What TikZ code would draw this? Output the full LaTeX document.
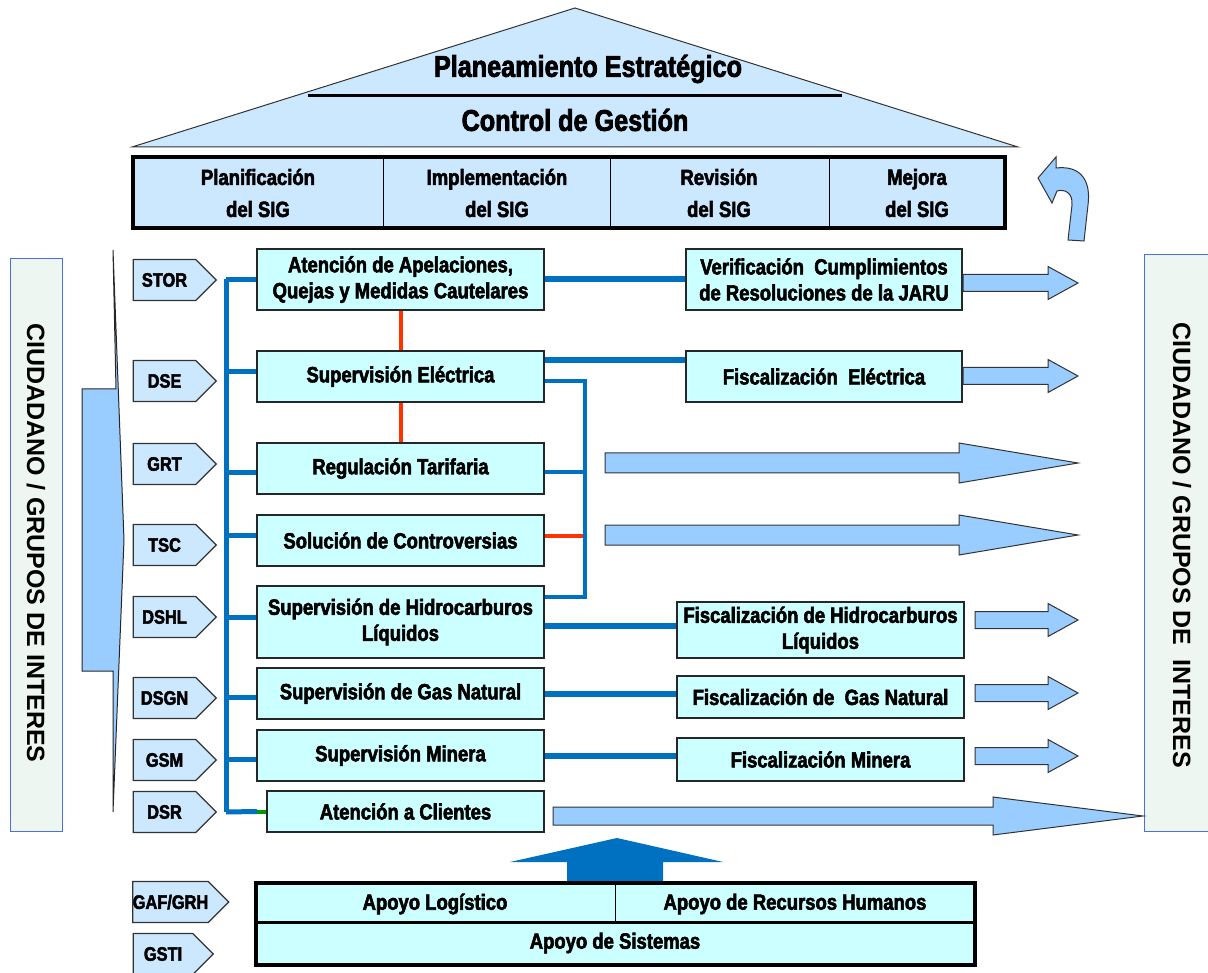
\documentclass[tikz,border=0pt]{standalone}
\usepackage{fontspec}
\setmainfont{Liberation Sans}
\newfontfamily\cnd[FakeStretch=0.84,FakeBold=2.5]{Liberation Sans}
\usetikzlibrary{shapes.symbols}

\definecolor{roofblue}{HTML}{CCE8FF}
\definecolor{boxcyan}{HTML}{CCFFFF}
\definecolor{arrowblue}{HTML}{99CCFF}
\definecolor{busblue}{HTML}{0070C0}
\definecolor{linkred}{HTML}{FF3300}
\definecolor{linkgreen}{HTML}{009900}
\definecolor{sidefill}{HTML}{EEF6F1}
\definecolor{sideedge}{HTML}{4A6FE0}

\tikzset{
  procbox/.style={draw=black!85, line width=1.2pt, fill=boxcyan, inner sep=0pt,
    align=center, font=\cnd\bfseries\fontsize{22}{26}\selectfont},
  tagbox/.style={signal, signal to=east, signal pointer angle=90, draw=black!80,
    line width=1.2pt, fill=roofblue, minimum height=41pt, inner sep=0pt,
    font=\cnd\bfseries\fontsize{19.5}{20}\selectfont},
  sigtext/.style={align=center, font=\cnd\bfseries\fontsize{22}{32}\selectfont},
  rooftext/.style={font=\cnd\bfseries\fontsize{30}{32}\selectfont},
  sidetext/.style={rotate=-90, font=\bfseries\fontsize{25}{26}\selectfont},
  bus/.style={draw=busblue, line width=5pt},
  thicklink/.style={draw=busblue, line width=6pt},
  bracket/.style={draw=busblue, line width=4pt},
  redlink/.style={draw=linkred, line width=4pt},
  flowarrow/.style={fill=arrowblue, draw=black!80, line width=1pt},
}

% flat block arrow: x start, x tip, y centre, shaft half height, head half height, head start
\newcommand\flowarr[6]{%
  \filldraw[flowarrow] ({#1},{#3-#4}) -- ({#6},{#3-#4}) -- ({#6},{#3-#5}) -- ({#2},{#3})
    -- ({#6},{#3+#5}) -- ({#6},{#3+#4}) -- ({#1},{#3+#4}) -- cycle;}

\begin{document}
\begin{tikzpicture}[x=1pt,y=-1pt]
\useasboundingbox (0,0) rectangle (1208,973);

% ---------- roof ----------
\filldraw[fill=roofblue, draw=black!80, line width=1pt] (132,147) -- (575,8) -- (1018,147) -- cycle;
\node[rooftext] (plan) at (588,69) {Planeamiento Estratégico};
\draw[line width=3pt] (308,96) -- (842,96);
\node[rooftext] (ctrl) at (575,120) {Control de Gestión};

% ---------- SIG cycle bar ----------
\node[draw=black, line width=4pt, fill=roofblue, minimum width=872pt, minimum height=71pt, inner sep=0pt] (sig) at (569,192.5) {};
\foreach \xd in {383,610,829} \draw[line width=1pt] (\xd,159) -- (\xd,226);
\node[sigtext] (s1) at (258,193) {Planificación\\del SIG};
\node[sigtext] (s2) at (497,193) {Implementación\\del SIG};
\node[sigtext] (s3) at (719,193) {Revisión\\del SIG};
\node[sigtext] (s4) at (917,193) {Mejora\\del SIG};

% turn-back arrow
\filldraw[flowarrow] (1068,240) -- (1072,205) .. controls (1073,192) and (1064,189) .. (1057,191)
  -- (1052,203) -- (1038,178) -- (1056,157) -- (1056,168)
  .. controls (1082,165) and (1091,182) .. (1088,205) -- (1084,241) -- cycle;

% ---------- side panels ----------
\filldraw[fill=sidefill, draw=sideedge, line width=1pt] (10,259) rectangle (62,831);
\node[sidetext] (citL) at (36,543) {CIUDADANO / GRUPOS DE INTERES};
\filldraw[fill=sidefill, draw=sideedge, line width=1pt] (1144,255) rectangle (1215,831);
\node[sidetext] (citR) at (1182,545) {CIUDADANO / GRUPOS DE \ INTERES};

% inflow callout
\filldraw[fill=arrowblue, draw=black!85, line width=1pt]
  (113,250) -- (124,540) -- (113,812) -- (113,671) -- (82,671) -- (82,389) -- (116,389) -- (113,250) -- cycle;

% ---------- unit tags ----------
\node[tagbox, minimum width=83pt] (tSTOR) at (164.5,280) {STOR};
\node[tagbox, minimum width=83pt] (tDSE)  at (164.5,381) {DSE};
\node[tagbox, minimum width=83pt] (tGRT)  at (164.5,464) {GRT};
\node[tagbox, minimum width=83pt] (tTSC)  at (164.5,545) {TSC};
\node[tagbox, minimum width=83pt] (tDSHL) at (164.5,617) {DSHL};
\node[tagbox, minimum width=83pt] (tDSGN) at (164.5,698) {DSGN};
\node[tagbox, minimum width=83pt] (tGSM)  at (164.5,760) {GSM};
\node[tagbox, minimum width=83pt] (tDSR)  at (164.5,812) {DSR};
\node[tagbox, minimum width=95pt] (tGAF)  at (170.5,902) {GAF/GRH};
\node[tagbox, minimum width=80pt] (tGSTI) at (163,954) {GSTI};

% ---------- core processes ----------
\node[procbox, minimum width=287pt, minimum height=61pt] (ap) at (400.5,279.5) {Atención de Apelaciones,\\Quejas y Medidas Cautelares};
\node[procbox, minimum width=287pt, minimum height=51pt] (se) at (400.5,376.5) {Supervisión Eléctrica};
\node[procbox, minimum width=287pt, minimum height=51pt] (rt) at (400.5,468.5) {Regulación Tarifaria};
\node[procbox, minimum width=287pt, minimum height=51pt] (sc) at (400.5,540.5) {Solución de Controversias};
\node[procbox, minimum width=287pt, minimum height=72pt] (sh) at (400.5,622) {Supervisión de Hidrocarburos\\Líquidos};
\node[procbox, minimum width=287pt, minimum height=51pt] (sg) at (400.5,693.5) {Supervisión de Gas Natural};
\node[procbox, minimum width=287pt, minimum height=51pt] (sm) at (400.5,755.5) {Supervisión Minera};
\node[procbox, minimum width=277pt, minimum height=41pt] (ac) at (405.5,811.5) {Atención a Clientes};

% ---------- follow-up processes ----------
\node[procbox, minimum width=276pt, minimum height=61pt] (vc) at (824,279.5) {Verificación \ Cumplimientos\\de Resoluciones de la JARU};
\node[procbox, minimum width=276pt, minimum height=51pt] (fe) at (824,376.5) {Fiscalización \ Eléctrica};
\node[procbox, minimum width=287pt, minimum height=56pt] (fh) at (820.5,630) {Fiscalización de Hidrocarburos\\Líquidos};
\node[procbox, minimum width=287pt, minimum height=42pt] (fg) at (820.5,697) {Fiscalización de \ Gas Natural};
\node[procbox, minimum width=287pt, minimum height=43pt] (fm) at (820.5,759.5) {Fiscalización Minera};

% ---------- left bus ----------
\coordinate (bustop) at (226,279.5);
\coordinate (busbot) at (226,812);
\draw[bus] (bustop) -- (busbot);
\foreach \n/\dy in {ap/0,se/5,rt/-4,sc/5,sh/5,sg/-4,sm/-4}
  \draw[bus] ([yshift=\dy pt]\n.west -| bustop) -- ([yshift=\dy pt]\n.west);
\draw[bus] (busbot) -- (ac.west -| 257,0);
\draw[draw=linkgreen, line width=4pt] (ac.west -| 257,0) -- (ac.west);

% ---------- links between processes ----------
\draw[thicklink] (ap.east) -- (vc.west);
\draw[thicklink] ([yshift=16pt]se.east) -- ([yshift=16pt]fe.west);
\draw[thicklink] ([yshift=-4pt]sh.east) -- ([yshift=-4pt]sh.east -| fh.west);
\draw[thicklink] (sg.east) -- (sg.east -| fg.west);
\draw[thicklink] (sm.east) -- (sm.east -| fm.west);
\draw[redlink] (ap.south) -- (se.north);
\draw[redlink] (se.south) -- (rt.north);
\coordinate (brk) at (585,0);
\draw[bracket] ([yshift=-5pt]se.east) -- ([yshift=-5pt]se.east -| brk) -- ([yshift=25pt]sh.east -| brk) -- ([yshift=25pt]sh.east);
\draw[bracket] ([yshift=-4pt]rt.east) -- ([yshift=-4pt]rt.east -| brk);
\draw[redlink] ([yshift=5pt]sc.east) -- ([xshift=-2pt,yshift=5pt]sc.east -| brk);

% ---------- outputs to stakeholders ----------
\flowarr{963}{1078}{283}{8.5}{16.5}{1048}
\flowarr{963}{1078}{376}{8.5}{16.5}{1048}
\flowarr{605}{1078}{463}{10}{20}{959}
\flowarr{605}{1078}{535}{10}{20}{959}
\flowarr{975}{1078}{620}{8.5}{16.5}{1048}
\flowarr{975}{1078}{693}{8.5}{16.5}{1048}
\flowarr{975}{1078}{756}{8.5}{16.5}{1048}
\flowarr{553}{1143}{816}{9}{19}{993}

% ---------- support layer ----------
\fill[busblue] (567,884) -- (567,862) -- (510,862) -- (617,838) -- (723,862) -- (663,862) -- (663,884) -- cycle;
\node[draw=black, line width=4pt, fill=boxcyan, minimum width=719pt, minimum height=82pt, inner sep=0pt] (sup) at (615.5,924) {};
\draw[line width=3pt] (sup.west |- 0,922) -- (sup.east |- 0,922);
\draw[line width=1pt] (615,885) -- (615,921);
\node[procbox, draw=none, fill=none] (log) at (435,904) {Apoyo Logístico};
\node[procbox, draw=none, fill=none] (rrhh) at (795,904) {Apoyo de Recursos Humanos};
\node[procbox, draw=none, fill=none] (sis) at (615,943) {Apoyo de Sistemas};
\end{tikzpicture}
\end{document}
